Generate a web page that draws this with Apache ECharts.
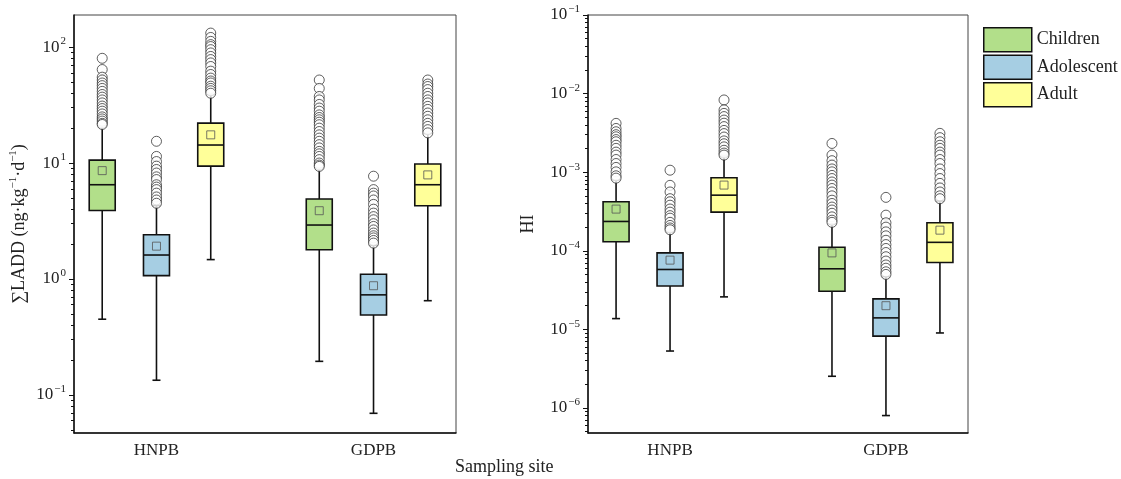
<!DOCTYPE html>
<html lang="en">
<head>
<meta charset="UTF-8">
<title>LADD / HI box plots</title>
<style>
  html, body { margin: 0; padding: 0; background: #fff; }
  #chart { width: 1121px; height: 479px; }
</style>
</head>
<body>
<div id="chart"></div>
<script src="https://cdn.jsdelivr.net/npm/echarts@6/dist/echarts.min.js"></script>
<script>
var sites = ['HNPB', 'GDPB'];
var groups = ['Children', 'Adolescent', 'Adult'];
var groupColors = ['#b2df8a', '#a6cee3', '#ffff99'];
var groupOffset = [-0.25, 0, 0.25];

// box stats [min, Q1, median, Q3, max], one row per site (HNPB, GDPB)
var laddBoxChildren = [[0.45, 3.9, 6.5, 10.6, 21], [0.195, 1.79, 2.92, 4.9, 9.1]];
var laddBoxAdolescent = [[0.134, 1.07, 1.61, 2.41, 4.3], [0.0695, 0.49, 0.73, 1.10, 1.95]];
var laddBoxAdult = [[1.47, 9.4, 14.3, 22.1, 39], [0.65, 4.28, 6.5, 9.8, 18]];
var laddMeanChildren = [8.6, 3.88];
var laddMeanAdolescent = [1.92, 0.875];
var laddMeanAdult = [17.5, 7.9];
var laddOutChildren = [
  [80, 64, 55, 52, 49, 46.5, 44, 41.5, 39, 37, 35, 33, 31, 29.5, 28, 26.5, 25, 24, 23, 22, 21.5],
  [52, 44, 37.5, 35, 32, 29.8, 28, 26, 24.7, 23.6, 22.5, 21.4, 20, 18.7, 17.5, 16.4, 15.4, 14.4, 13.5, 12.6, 12, 11.4, 10.7, 10, 9.6, 9.35]
];
var laddOutAdolescent = [
  [15.4, 11.4, 10.3, 9.4, 8.8, 8.2, 7.6, 7.2, 6.5, 6.2, 5.9, 5.5, 5.1, 4.8, 4.5],
  [7.7, 5.9, 5.5, 5.2, 4.8, 4.4, 4.0, 3.7, 3.45, 3.24, 3.0, 2.84, 2.65, 2.49, 2.36, 2.26, 2.15, 2.04]
];
var laddOutAdult = [
  [132, 121, 112, 105, 101, 95, 89, 83, 78, 73, 68, 62, 58, 54, 51, 49, 46, 44, 42, 40],
  [52, 48, 45.7, 43, 40, 37.5, 35, 33, 30.8, 29, 27, 25.3, 23.6, 22, 20.7, 19.4, 18.2]
];

var hiBoxChildren = [[1.37e-5, 1.30e-4, 2.36e-4, 4.2e-4, 8.0e-4], [2.53e-6, 3.06e-5, 5.9e-5, 1.11e-4, 2.2e-4]];
var hiBoxAdolescent = [[5.3e-6, 3.57e-5, 5.78e-5, 9.4e-5, 1.75e-4], [8.0e-7, 8.2e-6, 1.4e-5, 2.44e-5, 4.7e-5]];
var hiBoxAdult = [[2.59e-5, 3.1e-4, 5.1e-4, 8.5e-4, 1.6e-3], [9.0e-6, 7.1e-5, 1.28e-4, 2.27e-4, 4.3e-4]];
var hiMeanChildren = [3.39e-4, 9.4e-5];
var hiMeanAdolescent = [7.6e-5, 2.0e-5];
var hiMeanAdult = [6.85e-4, 1.83e-4];
var hiOutChildren = [
  [4.18e-3, 3.6e-3, 3.27e-3, 3.0e-3, 2.82e-3, 2.6e-3, 2.44e-3, 2.2e-3, 2.01e-3, 1.8e-3, 1.65e-3, 1.45e-3, 1.29e-3, 1.15e-3, 1.01e-3, 9e-4, 8.4e-4],
  [2.32e-3, 1.65e-3, 1.4e-3, 1.23e-3, 1.1e-3, 1.01e-3, 9.1e-4, 8.3e-4, 7.5e-4, 6.85e-4, 6.2e-4, 5.6e-4, 5e-4, 4.4e-4, 4e-4, 3.6e-4, 3.3e-4, 3.0e-4, 2.7e-4, 2.45e-4, 2.3e-4]
];
var hiOutAdolescent = [
  [1.06e-3, 6.8e-4, 5.6e-4, 4.6e-4, 4.2e-4, 3.8e-4, 3.4e-4, 3.1e-4, 2.8e-4, 2.6e-4, 2.3e-4, 2.1e-4, 1.95e-4, 1.85e-4],
  [4.78e-4, 2.84e-4, 2.27e-4, 2.0e-4, 1.74e-4, 1.55e-4, 1.36e-4, 1.2e-4, 1.07e-4, 9.5e-5, 8.4e-5, 7.4e-5, 6.6e-5, 6.0e-5, 5.4e-5, 5.0e-5]
];
var hiOutAdult = [
  [8.3e-3, 6.2e-3, 5.6e-3, 5.1e-3, 4.6e-3, 4.2e-3, 3.8e-3, 3.4e-3, 3.1e-3, 2.8e-3, 2.5e-3, 2.3e-3, 2.1e-3, 1.9e-3, 1.75e-3, 1.65e-3],
  [3.12e-3, 2.75e-3, 2.44e-3, 2.2e-3, 2.01e-3, 1.8e-3, 1.65e-3, 1.45e-3, 1.29e-3, 1.1e-3, 9.6e-4, 8.3e-4, 7.2e-4, 6.3e-4, 5.6e-4, 5e-4, 4.6e-4]
];

var laddTicks = [0.1, 1, 10, 100];
var hiTicks = [1e-6, 1e-5, 1e-4, 1e-3, 1e-2, 1e-1];

var panels = [
  { box: [laddBoxChildren, laddBoxAdolescent, laddBoxAdult],
    mean: [laddMeanChildren, laddMeanAdolescent, laddMeanAdult],
    out: [laddOutChildren, laddOutAdolescent, laddOutAdult] },
  { box: [hiBoxChildren, hiBoxAdolescent, hiBoxAdult],
    mean: [hiMeanChildren, hiMeanAdolescent, hiMeanAdult],
    out: [hiOutChildren, hiOutAdolescent, hiOutAdult] }
];

var FONT = '"Liberation Serif", "DejaVu Serif", serif';
var INK = '#111';

function minorTicks(lo, hi) {
  var res = [];
  for (var d = Math.floor(Math.log10(lo)); d <= Math.ceil(Math.log10(hi)); d++) {
    for (var k = 2; k <= 9; k++) {
      var v = k * Math.pow(10, d);
      if (v > lo && v < hi) res.push(v);
    }
  }
  return res;
}

function expLabel(v) {
  var e = Math.round(Math.log10(v));
  return '{b|10}{s|' + String(e).replace('-', '\u2212') + '}';
}

// superscript: small text pushed up by bottom padding
var supStyle = { fontFamily: FONT, fontSize: 11, color: '#222', verticalAlign: 'middle', padding: [0, 0, 11, 1] };
var labelRich = {
  b: { fontFamily: FONT, fontSize: 17, color: '#222', lineHeight: 20 },
  s: supStyle
};

function renderBox(params, api) {
  var x = api.value(0);
  var lo = api.coord([x, api.value(1)]);
  var q1 = api.coord([x, api.value(2)]);
  var md = api.coord([x, api.value(3)]);
  var q3 = api.coord([x, api.value(4)]);
  var hi = api.coord([x, api.value(5)]);
  var half = 13, cap = 4;
  var ln = { stroke: INK, lineWidth: 1.6 };
  return {
    type: 'group',
    children: [
      { type: 'line', shape: { x1: lo[0], y1: lo[1], x2: q1[0], y2: q1[1] }, style: ln },
      { type: 'line', shape: { x1: q3[0], y1: q3[1], x2: hi[0], y2: hi[1] }, style: ln },
      { type: 'line', shape: { x1: lo[0] - cap, y1: lo[1], x2: lo[0] + cap, y2: lo[1] }, style: ln },
      { type: 'line', shape: { x1: hi[0] - cap, y1: hi[1], x2: hi[0] + cap, y2: hi[1] }, style: ln },
      { type: 'rect', shape: { x: q3[0] - half, y: q3[1], width: half * 2, height: q1[1] - q3[1] },
        style: { fill: api.visual('color'), stroke: INK, lineWidth: 1.6 } },
      { type: 'line', shape: { x1: md[0] - half, y1: md[1], x2: md[0] + half, y2: md[1] }, style: ln }
    ]
  };
}

var series = [];
panels.forEach(function (p, pi) {
  groups.forEach(function (g, gi) {
    var boxData = sites.map(function (s, si) {
      return [si + 1 + groupOffset[gi]].concat(p.box[gi][si]);
    });
    var meanData = sites.map(function (s, si) {
      return [si + 1 + groupOffset[gi], p.mean[gi][si]];
    });
    var outData = [];
    sites.forEach(function (s, si) {
      p.out[gi][si].forEach(function (v) { outData.push([si + 1 + groupOffset[gi], v]); });
    });
    series.push({
      name: g, type: 'custom', xAxisIndex: pi, yAxisIndex: pi * 2,
      itemStyle: { color: groupColors[gi], borderColor: INK, borderWidth: 1.5 },
      encode: { x: 0, y: [1, 2, 3, 4, 5] },
      renderItem: renderBox, data: boxData, z: 2
    });
    series.push({
      name: g + ' outliers', type: 'scatter', xAxisIndex: pi, yAxisIndex: pi * 2,
      symbol: 'circle', symbolSize: 10,
      itemStyle: { color: '#fff', borderColor: '#222', borderWidth: 0.9 },
      data: outData, z: 3, silent: true
    });
    series.push({
      name: g + ' mean', type: 'scatter', xAxisIndex: pi, yAxisIndex: pi * 2,
      symbol: 'rect', symbolSize: 8,
      itemStyle: { color: 'rgba(0,0,0,0)', borderColor: '#555', borderWidth: 1 },
      data: meanData, z: 4, silent: true
    });
  });
});

function xAxisFor(gi) {
  return {
    type: 'value', gridIndex: gi, min: 0.62, max: 2.38,
    axisLine: { lineStyle: { color: INK, width: 1.5 } },
    axisTick: { show: false },
    splitLine: { show: false },
    axisLabel: {
      customValues: [1, 2], margin: 9,
      fontFamily: FONT, fontSize: 17, color: '#222',
      formatter: function (v) { return sites[Math.round(v) - 1]; }
    }
  };
}

function yAxesFor(gi, lo, hi, majors, name, nameGap) {
  return [{
    type: 'log', gridIndex: gi, min: lo, max: hi,
    name: name, nameLocation: 'middle', nameGap: nameGap,
    nameTextStyle: { fontFamily: FONT, fontSize: 18, color: '#222', rich: {
      n: { fontFamily: FONT, fontSize: 18, color: '#222', lineHeight: 20 },
      s: { fontFamily: FONT, fontSize: 11, color: '#222', verticalAlign: 'middle', padding: [0, 0, 11, 0] }
    } },
    axisLine: { show: true, lineStyle: { color: INK, width: 1.5 } },
    axisTick: { show: true, length: 5, customValues: majors, lineStyle: { color: INK, width: 1 } },
    axisLabel: { customValues: majors, margin: 8, formatter: expLabel, rich: labelRich },
    splitLine: { show: false }
  }, {
    type: 'log', gridIndex: gi, min: lo, max: hi, position: 'left',
    axisLine: { show: false },
    axisTick: { show: true, length: 3, customValues: minorTicks(lo, hi), lineStyle: { color: INK, width: 1 } },
    axisLabel: { show: false },
    splitLine: { show: false }
  }];
}

var chart = echarts.init(document.getElementById('chart'));
chart.setOption({
  animation: false,
  backgroundColor: '#fff',
  title: {
    text: 'Sampling site', left: 455, top: 458, padding: 0,
    textStyle: { fontFamily: FONT, fontSize: 18, fontWeight: 'normal', color: '#222' }
  },
  legend: {
    orient: 'vertical', left: 983, top: 27, padding: 0,
    itemWidth: 48, itemHeight: 24, itemGap: 2, icon: 'rect',
    data: groups,
    itemStyle: { borderColor: INK, borderWidth: 1.5 },
    textStyle: { fontFamily: FONT, fontSize: 18, color: '#222', lineHeight: 24 }
  },
  grid: [
    { left: 74, top: 15, width: 382, height: 418, show: true, borderColor: '#444', borderWidth: 1 },
    { left: 588, top: 15, width: 380, height: 418, show: true, borderColor: '#444', borderWidth: 1 }
  ],
  xAxis: [xAxisFor(0), xAxisFor(1)],
  yAxis: yAxesFor(0, 0.047, 189, laddTicks,
      '{n|\u2211LADD (ng\u00b7kg}{s|\u22121}{n|\u00b7d}{s|\u22121}{n|)}', 44)
    .concat(yAxesFor(1, 4.8e-7, 0.1, hiTicks, '{n|HI}', 50)),
  series: series
});
</script>
</body>
</html>
